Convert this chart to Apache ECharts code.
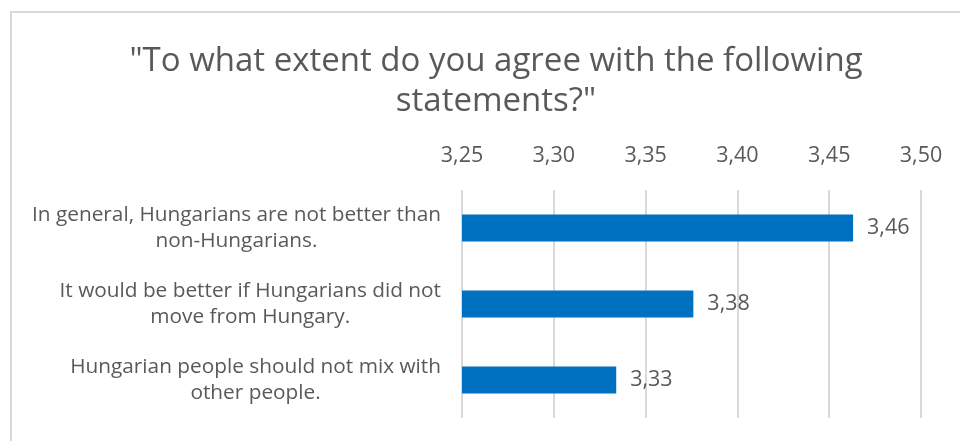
<!DOCTYPE html>
<html>
<head>
<meta charset="utf-8">
<script src="https://cdn.jsdelivr.net/npm/echarts@6/dist/echarts.min.js"></script>
<style>
  html, body { margin: 0; padding: 0; background: #ffffff; }
  #chart { width: 960px; height: 441px; }
</style>
</head>
<body>
<div id="chart"></div>
<script>
// Survey statements (top to bottom) and their mean agreement scores
const statements = [
  'In general, Hungarians are not better than\nnon-Hungarians.',
  'It would be better if Hungarians did not\nmove from Hungary.',
  'Hungarian people should not mix with\nother people.'
];
const meanScores = [3.463, 3.376, 3.334];

// Value axis range and step
const axisMin = 3.25;
const axisMax = 3.50;
const axisStep = 0.05;

const titleText = '"To what extent do you agree with the following\nstatements?"';

const textColor = '#595959';
const fontFamily = '"Open Sans", "DejaVu Sans", sans-serif';

// Comma decimal separator, two decimals
const fmt = v => Number(v).toFixed(2).replace('.', ',');

const chart = echarts.init(document.getElementById('chart'), null, { renderer: 'canvas' });

chart.setOption({
  animation: false,
  backgroundColor: '#ffffff',
  title: {
    text: titleText,
    left: 491,
    top: 37,
    textAlign: 'center',
    textStyle: {
      color: textColor,
      fontFamily: fontFamily,
      fontSize: 33,
      fontWeight: 'normal',
      lineHeight: 40
    }
  },
  graphic: [{
    type: 'rect',
    shape: { x: 11, y: 12, width: 1000, height: 1000 },
    style: { fill: 'none', stroke: '#d9d9d9', lineWidth: 2 },
    silent: true,
    z: -1
  }],
  grid: {
    left: 462,
    right: 39,
    top: 190,
    bottom: 23,
    containLabel: false
  },
  xAxis: {
    type: 'value',
    position: 'top',
    min: axisMin,
    max: axisMax,
    interval: axisStep,
    axisLine: { show: false },
    axisTick: { show: false },
    axisLabel: {
      color: textColor,
      fontFamily: fontFamily,
      fontSize: 21.5,
      margin: 23,
      formatter: v => fmt(v)
    },
    splitLine: {
      show: true,
      lineStyle: { color: '#d9d9d9', width: 2 }
    }
  },
  yAxis: {
    type: 'category',
    inverse: true,
    data: statements,
    axisLine: { show: false },
    axisTick: { show: false },
    axisLabel: {
      margin: 21,
      formatter: v => v.split('\n').map(l => '{c|' + l + '}').join('\n'),
      rich: {
        c: {
          align: 'center',
          color: textColor,
          fontFamily: fontFamily,
          fontSize: 20.8,
          lineHeight: 25.5
        }
      }
    }
  },
  series: [{
    type: 'bar',
    data: meanScores,
    barWidth: 27,
    itemStyle: { color: '#0070C0' },
    label: {
      show: true,
      position: 'right',
      distance: 14,
      color: textColor,
      fontFamily: fontFamily,
      fontSize: 21.5,
      formatter: p => fmt(p.value)
    }
  }]
});
</script>
</body>
</html>
